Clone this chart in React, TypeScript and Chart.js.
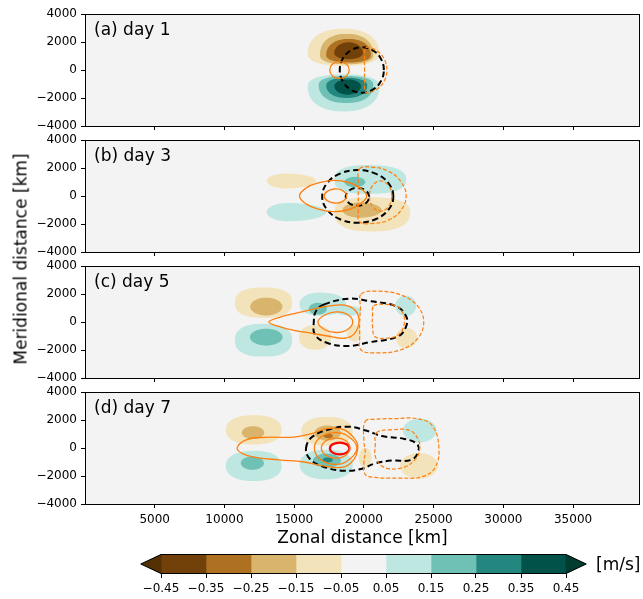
import React, { useEffect, useRef } from 'react';
import { Chart, registerables } from 'chart.js';

Chart.register(...registerables);
Chart.defaults.font.family = "'DejaVu Sans', sans-serif";
Chart.defaults.color = '#000';

// ---------------- axes / labels ----------------
const X_MIN = 0;
const X_MAX = 39800;
const Y_MIN = -4000;
const Y_MAX = 4000;
const xTicks = [5000, 10000, 15000, 20000, 25000, 30000, 35000];
const yTicks = [-4000, -2000, 0, 2000, 4000];
const panelLabels = ['(a) day 1', '(b) day 3', '(c) day 5', '(d) day 7'];
const xTitle = 'Zonal distance [km]';
const yTitle = 'Meridional distance [km]';
const unitLabel = '[m/s]';

// ---------------- colour bar ----------------
const levels = [-0.45, -0.35, -0.25, -0.15, -0.05, 0.05, 0.15, 0.25, 0.35, 0.45];
const binColors = ['#714109', '#ae7122', '#d8b46c', '#f3e3bb', '#f3f3f3', '#bfe7e1', '#6fc1b6', '#24877f', '#01534a'];
const underColor = '#543005';
const overColor = '#003c30';

// ---------------- filled anomaly regions ----------------
// [centre x km, centre y km, half-width left, half-width right, half-height top, half-height bottom, colour bin, squareness]
const day1Blobs = [
  [18535, 1150, 2565, 2565, 1790, 860, 3, 2.3],
  [18765, 1050, 1915, 1915, 1530, 640, 2, 2.3],
  [18900, 1050, 1600, 1600, 1170, 520, 1, 2.2],
  [18900, 1200, 1030, 1030, 780, 430, 0, 2],
  [18545, -1150, 2575, 2575, 840, 1810, 5, 2.3],
  [18720, -1050, 1960, 1960, 620, 1310, 6, 2.3],
  [18770, -1100, 1470, 1470, 550, 900, 7, 2.2],
  [18835, -1150, 955, 955, 480, 610, 8, 2],
];
const day3Blobs = [
  [14400, 1100, 1370, 2160, 500, 560, 3, 2],
  [14500, -1150, 1470, 2800, 650, 650, 5, 2],
  [20300, 1150, 2420, 2730, 1060, 1000, 5, 2.5],
  [19350, 1000, 750, 750, 370, 370, 6, 2],
  [20500, -1150, 2620, 2820, 1050, 1380, 3, 2.5],
  [19700, -1000, 1230, 1560, 540, 550, 2, 2],
];
const day5Blobs = [
  [12800, 1380, 2050, 2050, 1090, 1090, 3, 2.5],
  [13000, 1100, 1150, 1150, 640, 640, 2, 2],
  [12800, -1300, 2050, 2050, 1170, 1170, 5, 2.5],
  [13000, -1080, 1170, 1170, 600, 600, 6, 2],
  [16900, 1250, 1520, 1800, 850, 800, 5, 2.2],
  [18900, 800, 900, 900, 350, 350, 5, 2],
  [16700, 950, 650, 650, 420, 420, 6, 2],
  [16500, -1100, 1150, 1150, 880, 880, 3, 2.2],
  [19300, -800, 500, 500, 600, 600, 3, 2],
  [23000, 1150, 750, 750, 730, 730, 5, 2],
  [23050, -1150, 760, 760, 720, 720, 3, 2],
];
const day7Blobs = [
  [12100, 1300, 2000, 2000, 1050, 1050, 3, 2.3],
  [12050, 1100, 800, 800, 460, 460, 2, 2],
  [12100, -1280, 2000, 2000, 1080, 1080, 5, 2.3],
  [12000, -1080, 830, 830, 480, 480, 6, 2],
  [17350, 1200, 1840, 1840, 1020, 1020, 3, 2.3],
  [17400, 1070, 950, 950, 540, 540, 2, 2],
  [17450, 860, 330, 330, 160, 160, 1, 2],
  [17300, -1180, 1900, 1900, 1060, 1060, 5, 2.3],
  [17350, -900, 1000, 1000, 500, 500, 6, 2],
  [17400, -850, 370, 370, 180, 180, 7, 2],
  [20100, -700, 450, 450, 700, 700, 3, 2],
  [24000, 1250, 1200, 1200, 850, 850, 5, 2],
  [23950, -1270, 1350, 1350, 920, 920, 3, 2],
];

// ---------------- line contours (closed curves, km) ----------------
const day1Black = [
  [21430, 0], [21218, 810], [20640, 1403], [19850, 1620], [19060, 1403], [18482, 810],
  [18270, 0], [18482, -810], [19060, -1403], [19850, -1620], [20640, -1403], [21218, -810],
];
const day1OrangeDash = [
  [20150, 1600], [20900, 1390], [21450, 800], [21650, 0], [21450, -800], [20900, -1390],
  [20150, -1600], [20050, -800], [20050, 0], [20050, 800],
];
const day1Orange = [
  [18950, 0], [18745, 424], [18250, 600], [17755, 424], [17550, 0], [17755, -424], [18250, -600], [18745, -424],
];

const day3BlackOuter = [
  [22110, -30], [21768, 910], [20835, 1598], [19560, 1850], [18285, 1598], [17352, 910],
  [17010, -30], [17352, -970], [18285, -1658], [19560, -1910], [20835, -1658], [21768, -970],
];
const day3BlackInner = [
  [20380, -60], [20134, 393], [19540, 580], [18946, 393], [18700, -60], [18946, -513], [19540, -700], [20134, -513],
];
const day3OrangeOuter = [
  [15380, 0], [15900, 600], [16800, 950], [17800, 1120], [18800, 1000], [19700, 600], [20200, 0],
  [19700, -600], [18800, -1000], [17800, -1120], [16800, -950], [15900, -600],
];
const day3OrangeInner = [
  [17150, 0], [17400, 350], [17900, 500], [18450, 400], [18760, 0], [18450, -400], [17900, -500], [17400, -350],
];
const day3OrangeDashOuter = [
  [19700, 1950], [20700, 2050], [21700, 1800], [22600, 1100], [23030, 0], [22600, -1100], [21700, -1750],
  [20700, -1950], [19700, -1850], [19600, -900], [19600, 0], [19600, 900],
];
const day3OrangeDashInner = [
  [22000, 0], [21756, 764], [21200, 1080], [20634, 764], [20400, 0], [20634, -764], [21200, -1080], [21756, -764],
];

const day5Black = [
  [17150, 1256], [18910, 1666], [20380, 1497], [22290, 1135], [23030, 410], [23030, -314], [22440, -1040],
  [20380, -1450], [18910, -1715], [17440, -1520], [16500, -918], [16410, 48], [16560, 773],
];
const day5OrangeOuter = [
  [13180, 0], [14000, 350], [15090, 620], [16300, 900], [17440, 1135], [18600, 1200], [19400, 800], [19650, 0],
  [19300, -850], [18600, -1160], [17400, -1000], [16200, -800], [15000, -600], [14000, -350],
];
const day5OrangeInner = [
  [16700, 0], [17200, 500], [18000, 720], [18800, 550], [19200, 0], [18800, -550], [18000, -750], [17200, -550],
];
const day5OrangeDashOuter = [
  [19800, 2000], [21000, 2200], [22600, 1950], [23800, 1200], [24290, 0], [23800, -1250], [22600, -2000],
  [21000, -2200], [19800, -2000], [19700, -1000], [19700, 0], [19750, 1000],
];
const day5OrangeDashInner = [
  [20700, 1150], [21500, 1256], [22400, 1100], [22850, 500], [22880, -200], [22500, -900], [21600, -1160],
  [20800, -1050], [20620, -300], [20620, 500],
];

const day7Black = [
  [15850, 0], [16300, 800], [17600, 1350], [18900, 1520], [20150, 1250], [21300, 850], [22900, 650],
  [23800, 300], [23900, -250], [23400, -850], [22000, -900], [20800, -1100], [19800, -1500], [18500, -1620],
  [17000, -1300], [16100, -750],
];
const day7OrangeOuter = [
  [10910, 0], [11600, 600], [13000, 760], [15000, 780], [16300, 1050], [17450, 1400], [18600, 1300],
  [19450, 500], [19550, -100], [19300, -800], [18600, -1350], [17200, -1300], [15700, -1000], [13900, -850],
  [12100, -650], [11300, -400],
];
const day7OrangeMid = [
  [16450, 0], [16800, 700], [17700, 1080], [18700, 950], [19500, 0], [18700, -1000], [17700, -1150], [16800, -750],
];
const day7OrangeInner = [
  [16950, 0], [17250, 500], [17950, 700], [18650, 550], [19000, 0], [18650, -550], [17950, -720], [17250, -500],
];
const day7Red = [
  [18960, -30], [18755, 267], [18260, 390], [17765, 267], [17560, -30], [17765, -327], [18260, -450], [18755, -327],
];
const day7OrangeDashOuter = [
  [20090, 1900], [20800, 2050], [22300, 2100], [23800, 2100], [24900, 1600], [25380, 0], [25100, -1400],
  [24200, -2050], [22500, -2150], [20800, -2100], [20100, -1900], [20000, -1000], [20100, -300], [20000, 500],
];
const day7OrangeDashInner = [
  [20900, 1100], [22000, 1300], [23300, 1250], [23900, 600], [24000, -100], [23700, -800], [22800, -1400],
  [21500, -1400], [20850, -700], [20820, 300],
];

const lineStyles: Record<string, { color: string; width: number; dash: number[] }> = {
  black: { color: '#000000', width: 2, dash: [6, 3.5] },
  orange: { color: '#ff7f0e', width: 1.3, dash: [] },
  orangeDash: { color: '#ff7f0e', width: 1.2, dash: [4, 2] },
  red: { color: '#ff0000', width: 2.2, dash: [] },
};

const panelBlobs = [day1Blobs, day3Blobs, day5Blobs, day7Blobs];
const panelLines: { pts: number[][]; style: string }[][] = [
  [
    { pts: day1Orange, style: 'orange' },
    { pts: day1OrangeDash, style: 'orangeDash' },
    { pts: day1Black, style: 'black' },
  ],
  [
    { pts: day3OrangeOuter, style: 'orange' },
    { pts: day3OrangeInner, style: 'orange' },
    { pts: day3OrangeDashOuter, style: 'orangeDash' },
    { pts: day3OrangeDashInner, style: 'orangeDash' },
    { pts: day3BlackOuter, style: 'black' },
    { pts: day3BlackInner, style: 'black' },
  ],
  [
    { pts: day5OrangeOuter, style: 'orange' },
    { pts: day5OrangeInner, style: 'orange' },
    { pts: day5OrangeDashOuter, style: 'orangeDash' },
    { pts: day5OrangeDashInner, style: 'orangeDash' },
    { pts: day5Black, style: 'black' },
  ],
  [
    { pts: day7OrangeOuter, style: 'orange' },
    { pts: day7OrangeMid, style: 'orange' },
    { pts: day7OrangeInner, style: 'orange' },
    { pts: day7OrangeDashOuter, style: 'orangeDash' },
    { pts: day7OrangeDashInner, style: 'orangeDash' },
    { pts: day7Black, style: 'black' },
    { pts: day7Red, style: 'red' },
  ],
];

// ---------------- layout (pixels) ----------------
const W = 643;
const H = 599;
const PANEL_TOPS = [14, 140, 266, 392];
const PANEL_H = 112;
const PLOT_LEFT = 85;
const PLOT_RIGHT = 640;

const fmtNum = (v: number) => (v < 0 ? '\u2212' + String(Math.abs(v)) : String(v));
const fmtLev = (v: number) => (v < -1e-9 ? '\u2212' : '') + Math.abs(v).toFixed(2);

function drawBlob(ctx: CanvasRenderingContext2D, xs: any, ys: any, b: number[]) {
  const [cx, cy, rxL, rxR, ryT, ryB, bin, n] = b;
  const e = 2 / (n || 2);
  const steps = 120;
  ctx.beginPath();
  for (let i = 0; i <= steps; i++) {
    const t = (i / steps) * Math.PI * 2;
    const c = Math.cos(t);
    const s = Math.sin(t);
    const dx = Math.sign(c) * Math.pow(Math.abs(c), e) * (c >= 0 ? rxR : rxL);
    const dy = Math.sign(s) * Math.pow(Math.abs(s), e) * (s >= 0 ? ryT : ryB);
    const px = xs.getPixelForValue(cx + dx);
    const py = ys.getPixelForValue(cy + dy);
    if (i === 0) ctx.moveTo(px, py);
    else ctx.lineTo(px, py);
  }
  ctx.closePath();
  ctx.fillStyle = binColors[bin];
  ctx.fill();
}

function makePanelPlugin(blobs: number[][], label: string) {
  return {
    id: 'panelDecor',
    afterDatasetUpdate(chart: any, args: any) {
      const line = args.meta.dataset;
      if (line) {
        line._loop = true;
        line._fullLoop = true;
      }
    },
    beforeDatasetsDraw(chart: any) {
      const { ctx, chartArea } = chart;
      const xs = chart.scales.x;
      const ys = chart.scales.y;
      ctx.save();
      ctx.beginPath();
      ctx.rect(chartArea.left, chartArea.top, chartArea.right - chartArea.left, chartArea.bottom - chartArea.top);
      ctx.clip();
      ctx.fillStyle = binColors[4];
      ctx.fillRect(chartArea.left, chartArea.top, chartArea.right - chartArea.left, chartArea.bottom - chartArea.top);
      blobs.forEach((b) => drawBlob(ctx, xs, ys, b));
      ctx.restore();
    },
    afterDatasetsDraw(chart: any) {
      const { ctx, chartArea } = chart;
      ctx.save();
      ctx.strokeStyle = '#000';
      ctx.lineWidth = 1;
      ctx.strokeRect(chartArea.left + 0.5, chartArea.top + 0.5, chartArea.right - chartArea.left - 1, chartArea.bottom - chartArea.top);
      ctx.fillStyle = '#000';
      ctx.font = "17px 'DejaVu Sans'";
      ctx.textBaseline = 'alphabetic';
      ctx.textAlign = 'left';
      ctx.fillText(label, chartArea.left + 9, chartArea.top + 21);
      ctx.restore();
    },
  };
}

const colorbarPlugin = {
  id: 'cbExtend',
  afterDatasetsDraw(chart: any) {
    const { ctx, chartArea } = chart;
    const xs = chart.scales.x;
    const L = xs.getPixelForValue(levels[0]);
    const R = xs.getPixelForValue(levels[levels.length - 1]);
    const T = chartArea.top;
    const B = chartArea.bottom;
    const M = (T + B) / 2;
    const ext = 0.05 * (R - L);
    ctx.save();
    ctx.fillStyle = underColor;
    ctx.beginPath();
    ctx.moveTo(L + 0.5, T);
    ctx.lineTo(L - ext, M);
    ctx.lineTo(L + 0.5, B);
    ctx.closePath();
    ctx.fill();
    ctx.fillStyle = overColor;
    ctx.beginPath();
    ctx.moveTo(R - 0.5, T);
    ctx.lineTo(R + ext, M);
    ctx.lineTo(R - 0.5, B);
    ctx.closePath();
    ctx.fill();
    ctx.strokeStyle = '#000';
    ctx.lineWidth = 1;
    ctx.beginPath();
    ctx.moveTo(L, T + 0.5);
    ctx.lineTo(R, T + 0.5);
    ctx.lineTo(R + ext, M);
    ctx.lineTo(R, B - 0.5);
    ctx.lineTo(L, B - 0.5);
    ctx.lineTo(L - ext, M);
    ctx.closePath();
    ctx.stroke();
    ctx.restore();
  },
};

export default function App() {
  const panelRefs = useRef<(HTMLCanvasElement | null)[]>([]);
  const cbRef = useRef<HTMLCanvasElement | null>(null);

  useEffect(() => {
    const charts: Chart[] = [];
    panelRefs.current.forEach((canvas, idx) => {
      if (!canvas) return;
      const top = PANEL_TOPS[idx];
      const bottom = top + PANEL_H;
      const isLast = idx === 3;
      const xAxisH = isLast ? 45 : 10;
      const datasets = panelLines[idx].map((ln) => {
        const st = lineStyles[ln.style];
        return {
          data: ln.pts.map(([x, y]) => ({ x, y })),
          showLine: true,
          pointRadius: 0,
          borderColor: st.color,
          borderWidth: st.width,
          borderDash: st.dash,
          tension: 0.4,
          fill: false,
        };
      });
      const chart = new Chart(canvas, {
        type: 'scatter',
        data: { datasets: datasets as any },
        options: {
          responsive: false,
          animation: false,
          events: [],
          layout: {
            padding: { left: 0, right: W - PLOT_RIGHT, top, bottom: H - bottom - xAxisH },
          },
          plugins: { legend: { display: false }, tooltip: { enabled: false } },
          scales: {
            x: {
              type: 'linear',
              min: X_MIN,
              max: X_MAX,
              afterBuildTicks: (s: any) => {
                s.ticks = xTicks.map((v) => ({ value: v }));
              },
              afterFit: (s: any) => {
                s.height = xAxisH;
                s.paddingLeft = 0;
                s.paddingRight = 0;
              },
              ticks: {
                display: isLast,
                callback: (v: any) => String(v),
                font: { size: 12 },
                padding: 5,
                maxRotation: 0,
                autoSkip: false,
                color: '#000',
              },
              grid: { display: true, drawOnChartArea: false, drawTicks: true, tickLength: 4, color: '#000', lineWidth: 1 },
              border: { display: false },
              title: {
                display: isLast,
                text: xTitle,
                font: { size: 17 },
                color: '#000',
                padding: 0,
              },
            },
            y: {
              type: 'linear',
              min: Y_MIN,
              max: Y_MAX,
              afterBuildTicks: (s: any) => {
                s.ticks = yTicks.map((v) => ({ value: v }));
              },
              afterFit: (s: any) => {
                s.width = PLOT_LEFT;
                s.paddingTop = 0;
                s.paddingBottom = 0;
              },
              ticks: {
                callback: (v: any) => fmtNum(Number(v)),
                font: { size: 12 },
                padding: 4,
                color: '#000',
              },
              grid: { display: true, drawOnChartArea: false, drawTicks: true, tickLength: 4, color: '#000', lineWidth: 1 },
              border: { display: false },
            },
          },
        },
        plugins: [makePanelPlugin(panelBlobs[idx], panelLabels[idx])],
      } as any);
      charts.push(chart);
    });

    if (cbRef.current) {
      const cbDatasets = binColors.map((c, i) => ({
        data: [[levels[i], levels[i + 1]]],
        backgroundColor: c,
        borderWidth: 0,
        barPercentage: 1,
        categoryPercentage: 1,
        grouped: false,
      }));
      const cb = new Chart(cbRef.current, {
        type: 'bar',
        data: { labels: [unitLabel], datasets: cbDatasets as any },
        options: {
          indexAxis: 'y',
          responsive: false,
          animation: false,
          events: [],
          layout: { padding: { left: 161, right: 0, top: 554, bottom: 0 } },
          plugins: { legend: { display: false }, tooltip: { enabled: false } },
          scales: {
            x: {
              type: 'linear',
              min: levels[0],
              max: levels[levels.length - 1],
              afterBuildTicks: (s: any) => {
                s.ticks = levels.map((v) => ({ value: v }));
              },
              afterFit: (s: any) => {
                s.height = 25;
                s.paddingLeft = 0;
                s.paddingRight = 0;
              },
              ticks: { callback: (v: any) => fmtLev(Number(v)), font: { size: 12 }, padding: 4, maxRotation: 0, autoSkip: false, color: '#000' },
              grid: { display: true, drawOnChartArea: false, drawTicks: true, tickLength: 4, color: '#000', lineWidth: 1 },
              border: { display: false },
            },
            y: {
              position: 'right',
              afterFit: (s: any) => {
                s.width = 77;
                s.paddingTop = 0;
                s.paddingBottom = 0;
              },
              ticks: { font: { size: 17 }, padding: 30, color: '#000', labelOffset: 2 },
              grid: { display: false, drawTicks: false },
              border: { display: false },
            },
          },
        },
        plugins: [colorbarPlugin],
      } as any);
      charts.push(cb);
    }
    return () => charts.forEach((c) => c.destroy());
  }, []);

  return (
    <div style={{ position: 'fixed', left: 0, top: 0, width: W, height: H, background: '#fff', overflow: 'hidden' }}>
      {[0, 1, 2, 3].map((i) => (
        <canvas
          key={i}
          ref={(el) => {
            panelRefs.current[i] = el;
          }}
          width={W}
          height={H}
          style={{ position: 'absolute', left: 0, top: 0, width: W, height: H }}
        />
      ))}
      <canvas ref={cbRef} width={W} height={H} style={{ position: 'absolute', left: 0, top: 0, width: W, height: H }} />
      <div
        style={{
          position: 'absolute',
          left: 21,
          top: 259,
          transform: 'translate(-50%, -50%) rotate(-90deg)',
          font: "17px 'DejaVu Sans'",
          lineHeight: 1,
          whiteSpace: 'nowrap',
          color: '#000',
        }}
      >
        {yTitle}
      </div>
    </div>
  );
}
